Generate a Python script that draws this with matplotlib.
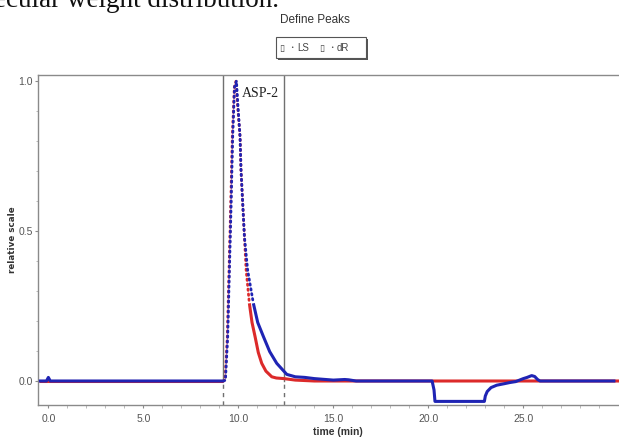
import matplotlib
matplotlib.use("Agg")
import matplotlib.pyplot as plt
from matplotlib.patches import Rectangle
import numpy as np

# ---------------- data ----------------
ls_time = [-0.5, 9.2, 9.3, 9.42, 9.51, 9.6, 9.68, 9.79, 9.88, 9.95, 10.09, 10.14, 10.23,
           10.32, 10.41, 10.58, 10.72, 10.88, 11.05, 11.23, 11.45, 11.76, 12.0, 12.4, 13.0,
           14.0, 20.0, 30.5]
ls_vals = [0.0, 0.0, 0.003, 0.148, 0.37, 0.59, 0.81, 0.98, 1.0, 0.926, 0.814, 0.703, 0.592,
           0.481, 0.37, 0.259, 0.195, 0.148, 0.095, 0.059, 0.033, 0.014, 0.01, 0.008, 0.003,
           0.0, 0.0, 0.0]

dr_time = [-0.5, -0.1, 0.0, 0.1, 9.22, 9.32, 9.44, 9.53, 9.62, 9.7, 9.8, 9.9, 9.97, 10.09,
           10.14, 10.23, 10.32, 10.49, 10.79, 11.02, 11.32, 11.65, 12.02, 12.55, 13.0, 13.5,
           14.0, 15.0, 15.6, 15.8, 16.2, 20.2, 20.3, 20.35, 22.95, 23.0, 23.1, 23.3, 23.6,
           24.0, 24.3, 24.6, 25.0, 25.2, 25.44, 25.6, 25.75, 25.88, 29.85]
dr_vals = [0.0, 0.0, 0.012, 0.0, 0.0, 0.003, 0.148, 0.37, 0.59, 0.81, 0.98, 1.0, 0.926, 0.814,
           0.703, 0.592, 0.481, 0.37, 0.259, 0.195, 0.148, 0.098, 0.059, 0.022, 0.014, 0.012,
           0.008, 0.003, 0.005, 0.004, 0.0, 0.0, -0.03, -0.068, -0.068, -0.05, -0.035, -0.022,
           -0.014, -0.009, -0.005, -0.002, 0.008, 0.012, 0.018, 0.015, 0.005, 0.0, 0.0]

series_names = ["LS", "dR"]
series_colors = ["#dc2a2a", "#1f24b4"]
peak_bounds = [9.2, 12.4]
peak_label = "ASP-2"
x_ticks = [0.0, 5.0, 10.0, 15.0, 20.0, 25.0]
y_ticks = [0.0, 0.5, 1.0]

NARROW = ["Liberation Sans Narrow", "DejaVu Sans Condensed", "Liberation Sans", "DejaVu Sans"]
W, H = 619, 438

fig = plt.figure(figsize=(W / 100, H / 100), dpi=100)
fig.patch.set_facecolor("white")

x0, x1 = -0.53, 30.5
y0, y1 = -0.08, 1.02
ax = fig.add_axes([38.3 / W, 33 / H, (48.3 + 19.0 * 30.5 - 38.3) / W, 330 / H])
ax.set_xlim(x0, x1)
ax.set_ylim(y0, y1)


def draw_series(t, v, color, dot_start, dot_end, z):
    t = np.asarray(t, float)
    v = np.asarray(v, float)
    i0 = int(np.searchsorted(t, dot_start))
    i1 = int(np.searchsorted(t, dot_end))
    ax.plot(t[:i0 + 1], v[:i0 + 1], color=color, lw=2.2, zorder=z, solid_capstyle="butt")
    ax.plot(t[i0:i1 + 1], v[i0:i1 + 1], color=color, lw=2.0, ls=(0, (0.5, 1.3)),
            dash_capstyle="round", zorder=z)
    ax.plot(t[i1:], v[i1:], color=color, lw=2.2, zorder=z, solid_capstyle="butt",
            solid_joinstyle="round")


draw_series(ls_time, ls_vals, series_colors[0], 9.2, 10.58, 3)
draw_series(dr_time, dr_vals, series_colors[1], 9.22, 10.79, 4)

# peak boundary lines
for b in peak_bounds:
    ax.plot([b, b], [0, y1], color="#707070", lw=1.0, zorder=2)
    ax.plot([b, b], [y0, 0], color="#707070", lw=1.0, ls=(0, (3, 3)), zorder=2)

ax.text(10.2, 0.959, peak_label, family=["Liberation Serif", "DejaVu Serif"],
        fontsize=10, va="center", ha="left", color="#222222")

# spines / ticks
for s in ["left", "top", "bottom"]:
    ax.spines[s].set_color("#8a8a8a")
    ax.spines[s].set_linewidth(1.0)
ax.spines["right"].set_visible(False)

ax.set_xticks(x_ticks)
ax.set_xticklabels([f"{v:.1f}" for v in x_ticks])
ax.set_xticks(np.arange(0, 30, 1.0), minor=True)
ax.set_yticks(y_ticks)
ax.set_yticklabels([f"{v:.1f}" for v in y_ticks])
ax.set_yticks(np.arange(0, 1.01, 0.1), minor=True)
ax.tick_params(which="major", length=2.5, width=0.8, color="#8a8a8a", direction="out",
               labelsize=7.5, labelcolor="#555555", pad=1.5)
ax.tick_params(which="minor", length=1.8, width=0.6, color="#b0b0b0", direction="out")
for lab in ax.get_xticklabels() + ax.get_yticklabels():
    lab.set_family(NARROW)
ax.tick_params(axis="x", pad=4)

# axis labels
fig.text(338 / W, 1 - 431.7 / H, "time (min)", family=NARROW, fontweight="bold",
         fontsize=7.5, ha="center", va="center", color="#333333")
fig.text(13 / W, 1 - 240 / H, "relative scale", family=["DejaVu Sans"], fontweight="bold",
         fontsize=6.3, ha="center", va="center", rotation=90, color="#333333")

# title and legend box
fig.text(315 / W, 1 - 20 / H, "Define Peaks", family=NARROW, fontsize=8.5,
         ha="center", va="center", color="#333333")
bx, by, bw, bh = 276, 37, 90, 21
fig.add_artist(Rectangle(((bx + 2) / W, 1 - (by + bh + 2) / H), bw / W, bh / H,
                         transform=fig.transFigure, facecolor="#555555", edgecolor="none"))
fig.add_artist(Rectangle((bx / W, 1 - (by + bh) / H), bw / W, bh / H,
                         transform=fig.transFigure, facecolor="white", edgecolor="#555555",
                         lw=0.8))
for i, name in enumerate(series_names):
    xs = 279 + i * 40
    fig.text(xs / W, 1 - 48.5 / H, "\u25af", family=["DejaVu Sans"], fontsize=6.5,
             ha="left", va="center", color="#444444")
    fig.text((xs + 13) / W, 1 - 48 / H, "\u2022", family=["DejaVu Sans"], fontsize=4,
             ha="center", va="center", color="#444444")
    fig.text((xs + 18) / W, 1 - 48 / H, name, family=NARROW, fontsize=7,
             ha="left", va="center", color="#444444")

# cropped document text at top
fig.text(-6 / W, 1 - 7.3 / H, "ecular weight distribution.",
         family=["Liberation Serif", "DejaVu Serif"], fontsize=19.5, va="baseline",
         ha="left", color="#111111")

fig.savefig("out.png", dpi=100, facecolor="white")
